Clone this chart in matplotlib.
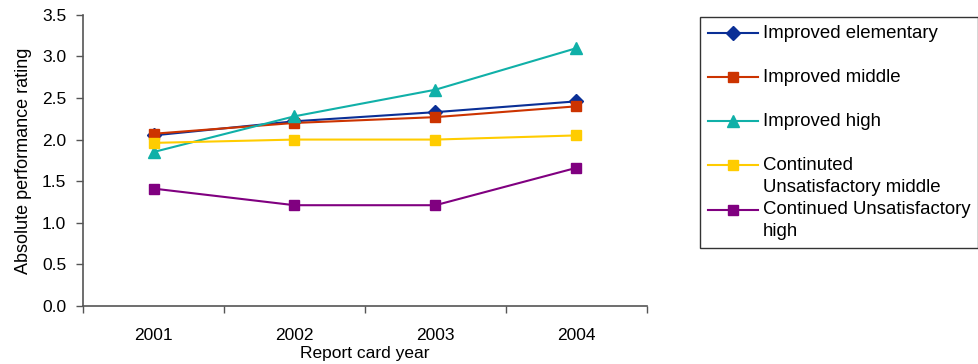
import numpy as np
import matplotlib
matplotlib.use("Agg")
import matplotlib.pyplot as plt

plt.rcParams['font.family'] = ['Liberation Sans', 'DejaVu Sans']

# Report card data
years = ["2001", "2002", "2003", "2004"]
improved_elementary = [2.05, 2.22, 2.33, 2.46]
improved_middle = [2.07, 2.20, 2.27, 2.40]
improved_high = [1.85, 2.28, 2.60, 3.10]
unsat_middle = [1.96, 2.00, 2.00, 2.05]
unsat_high = [1.41, 1.21, 1.21, 1.66]

# every legend entry takes two lines, so the single-line ones get a blank second line
series = [
    ("Improved elementary\n", improved_elementary, "#0A2F96", "D", 7),
    ("Improved middle\n", improved_middle, "#CC3300", "s", 7.5),
    ("Improved high\n", improved_high, "#10B0A8", "^", 8.5),
    ("Continuted\nUnsatisfactory middle", unsat_middle, "#FFCC00", "s", 6.5),
    ("Continued Unsatisfactory\nhigh", unsat_high, "#800080", "s", 6.5),
]

fig = plt.figure(figsize=(9.79, 3.64), dpi=100)
ax = fig.add_axes([0.0848, 0.16, 0.576, 0.799])

x = np.arange(len(years))
for label, vals, color, marker, ms in series:
    ax.plot(x, vals, color=color, marker=marker, markersize=ms,
            linewidth=1.5, label=label)

ax.set_xlim(-0.5, len(years) - 0.5)
ax.set_ylim(0, 3.5)
yt = np.arange(0, 3.51, 0.5)
ax.set_yticks(yt)
ax.set_yticklabels([f"{v:.1f}" for v in yt])
ax.set_xticks(x)
ax.set_xticklabels(years)
ax.set_xticks(np.arange(-0.5, len(years), 1.0), minor=True)
ax.tick_params(axis='x', which='major', length=0, pad=16, labelsize=12.5)
ax.tick_params(axis='x', which='minor', length=5, width=1, color='#555555')
ax.tick_params(axis='y', length=5, width=1, color='#555555', labelsize=12.5, pad=7)

for side in ('top', 'right'):
    ax.spines[side].set_visible(False)
for side in ('left', 'bottom'):
    ax.spines[side].set_color('#555555')
    ax.spines[side].set_linewidth(1.2)

ax.set_xlabel("Report card year", fontsize=12.5, labelpad=2.5)
ax.set_ylabel("Absolute performance rating", fontsize=13, labelpad=7)

leg = fig.legend(loc='upper left', bbox_to_anchor=(0.7155, 0.953),
                 frameon=True, fancybox=False, edgecolor='black',
                 fontsize=13.4, handlelength=2.7, handleheight=1.45,
                 handletextpad=0.26, labelspacing=0.25, borderpad=0.4,
                 borderaxespad=0)
leg.get_frame().set_linewidth(1.0)
for t in leg.get_texts():
    t.set_linespacing(1.42)
# put each handle level with the first line of its label
for col in leg._legend_handle_box.get_children():
    for row in col.get_children():
        row.align = "top"

fig.savefig("out.png", dpi=100)
